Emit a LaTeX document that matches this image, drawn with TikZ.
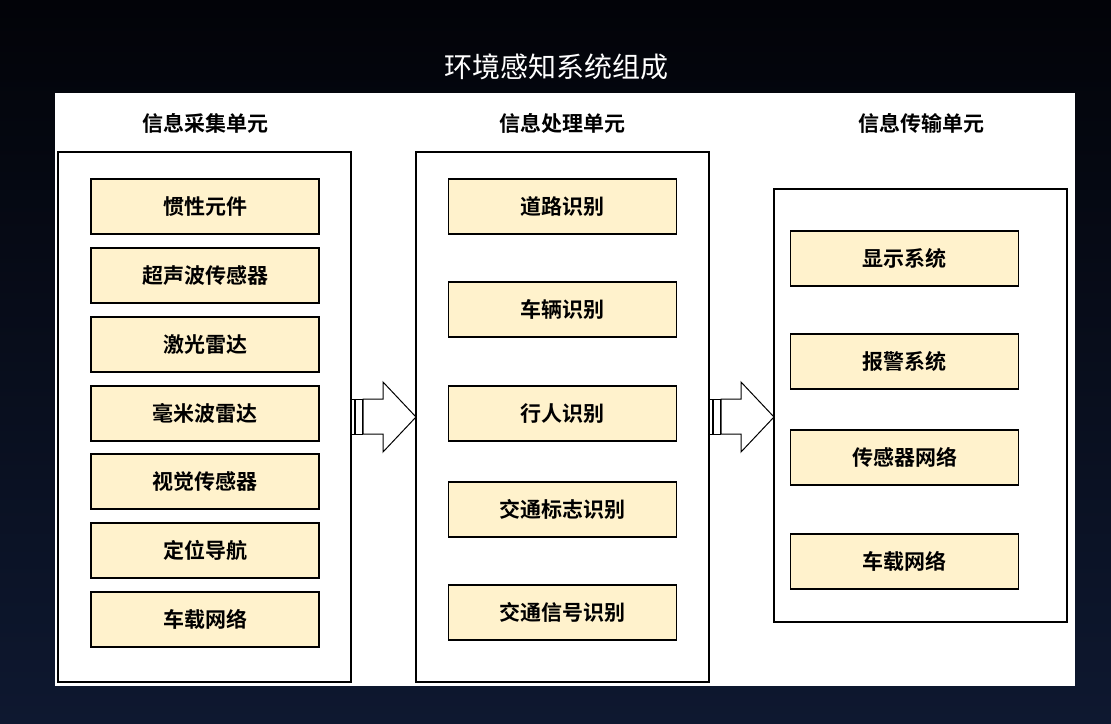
\documentclass[tikz,border=0pt]{standalone}
\usepackage{fontspec}
\setmainfont{Noto Sans CJK SC}[BoldFont={Noto Sans CJK SC Bold}]
\definecolor{boxfill}{RGB}{255,242,204}
\definecolor{bgtop}{RGB}{2,3,8}
\definecolor{bgbot}{RGB}{14,24,48}
\begin{document}
\begin{tikzpicture}[x=1pt,y=-1pt,
  item/.style={draw=black,line width=1.2pt,fill=boxfill,minimum width=228pt,minimum height=55pt,font=\bfseries\fontsize{21}{21}\selectfont,inner sep=0pt},
  cont/.style={draw=black,line width=1.2pt,fill=white},
  hdr/.style={font=\bfseries\fontsize{21}{21}\selectfont},
  barrow/.style={draw=black,line width=1pt,fill=white}]
\useasboundingbox (0,0) rectangle (1111,723);
\shade[top color=bgtop,bottom color=bgbot] (0,0) rectangle (1111,723);
\node[white,font=\fontsize{28}{28}\selectfont] (title) at (556,67) {环境感知系统组成};
\fill[white] (55,93) rectangle (1075,686);
\draw[cont] (58,152) rectangle (351,682);
\draw[cont] (416,152) rectangle (709,682);
\draw[cont] (774,189) rectangle (1067,622);
\node[hdr] (h1) at (205,123) {信息采集单元};
\node[hdr] (h2) at (562,123) {信息处理单元};
\node[hdr] (h3) at (921,123) {信息传输单元};
\foreach \y/\t [count=\i] in {206.5/惯性元件,275.5/超声波传感器,344.5/激光雷达,413.5/毫米波雷达,481.5/视觉传感器,550.5/定位导航,619.5/车载网络}
  \node[item] (a\i) at (205,\y) {\t};
\foreach \y/\t [count=\i] in {206.5/道路识别,309.5/车辆识别,413.5/行人识别,509.5/交通标志识别,612.5/交通信号识别}
  \node[item] (b\i) at (562.5,\y) {\t};
\foreach \y/\t [count=\i] in {258.5/显示系统,361.5/报警系统,457.5/传感器网络,561.5/车载网络}
  \node[item] (c\i) at (904.5,\y) {\t};
% block arrows
\foreach \x in {351,709}{
  \draw[barrow] (\x,399) rectangle (\x+3,434);
  \draw[barrow] (\x+4,399) rectangle (\x+11,434);
  \draw[barrow] (\x+12,399) -- (\x+32,399) -- (\x+32,382) -- (\x+65,417) -- (\x+32,452) -- (\x+32,434) -- (\x+12,434) -- cycle;
}
\end{tikzpicture}
\end{document}
